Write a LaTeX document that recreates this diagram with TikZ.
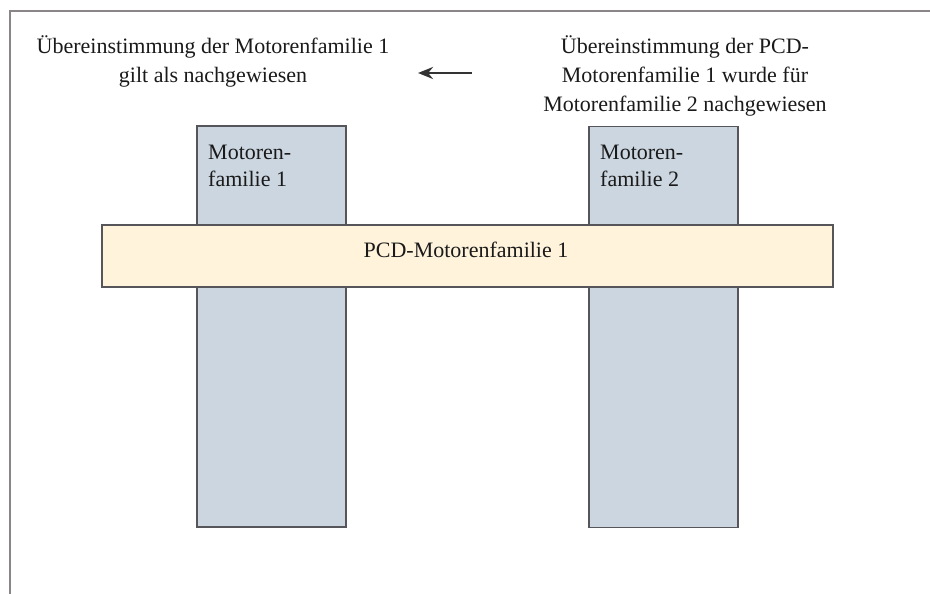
\documentclass[tikz,border=0pt]{standalone}
\usepackage{fontspec}
\setmainfont{Liberation Serif}
\usetikzlibrary{arrows.meta}
\definecolor{boxfill}{HTML}{CBD6E0}
\definecolor{barfill}{HTML}{FFF3DC}
\definecolor{edge}{HTML}{55555A}
\definecolor{frame}{HTML}{8A8589}
\definecolor{txt}{HTML}{1A1A1A}
\definecolor{arrowc}{HTML}{333333}
\tikzset{
  famcol/.style={draw=edge, line width=1.8pt, fill=boxfill, minimum width=149pt, minimum height=401pt, inner sep=0pt},
  pcdbar/.style={draw=edge, line width=1.8pt, fill=barfill, minimum width=731pt, minimum height=62pt, inner sep=0pt},
  lbl/.style={text=txt, font=\fontsize{22}{27}\selectfont, inner sep=0pt},
  toplbl/.style={text=txt, font=\fontsize{22}{29}\selectfont, align=center, inner sep=0pt},
}
\begin{document}
\begin{tikzpicture}[x=1pt,y=-1pt]
\useasboundingbox (0,0) rectangle (930,594);
\fill[white] (0,0) rectangle (930,594);
% frame
\draw[frame, line width=2pt] (10,594) -- (10,11) -- (930,11);
% columns
\node[famcol] (f1) at (271.5,326.5) {};
\node[famcol] (f2) at (663.5,327) {};
\node[lbl, anchor=north west, align=left] (t1) at (208,145) {Motoren-\\familie 1};
\node[lbl, anchor=north west, align=left] (t2) at (600,145) {Motoren-\\familie 2};
% bar
\node[pcdbar] (bar) at (467.5,256) {};
\node[lbl] (bart) at (466,250) {PCD-Motorenfamilie 1};
% top texts
\node[toplbl] (left) at (213,61) {Übereinstimmung der Motorenfamilie 1\\gilt als nachgewiesen};
\node[toplbl] (right) at (685,76) {Übereinstimmung der PCD-\\Motorenfamilie 1 wurde für\\Motorenfamilie 2 nachgewiesen};
\coordinate (a1) at (472,73);
\coordinate (a2) at (418,73);
\draw[arrowc, line width=2.6pt, -{Stealth[length=15pt,width=12pt]}] (a1) -- (a2);
\end{tikzpicture}
\end{document}
